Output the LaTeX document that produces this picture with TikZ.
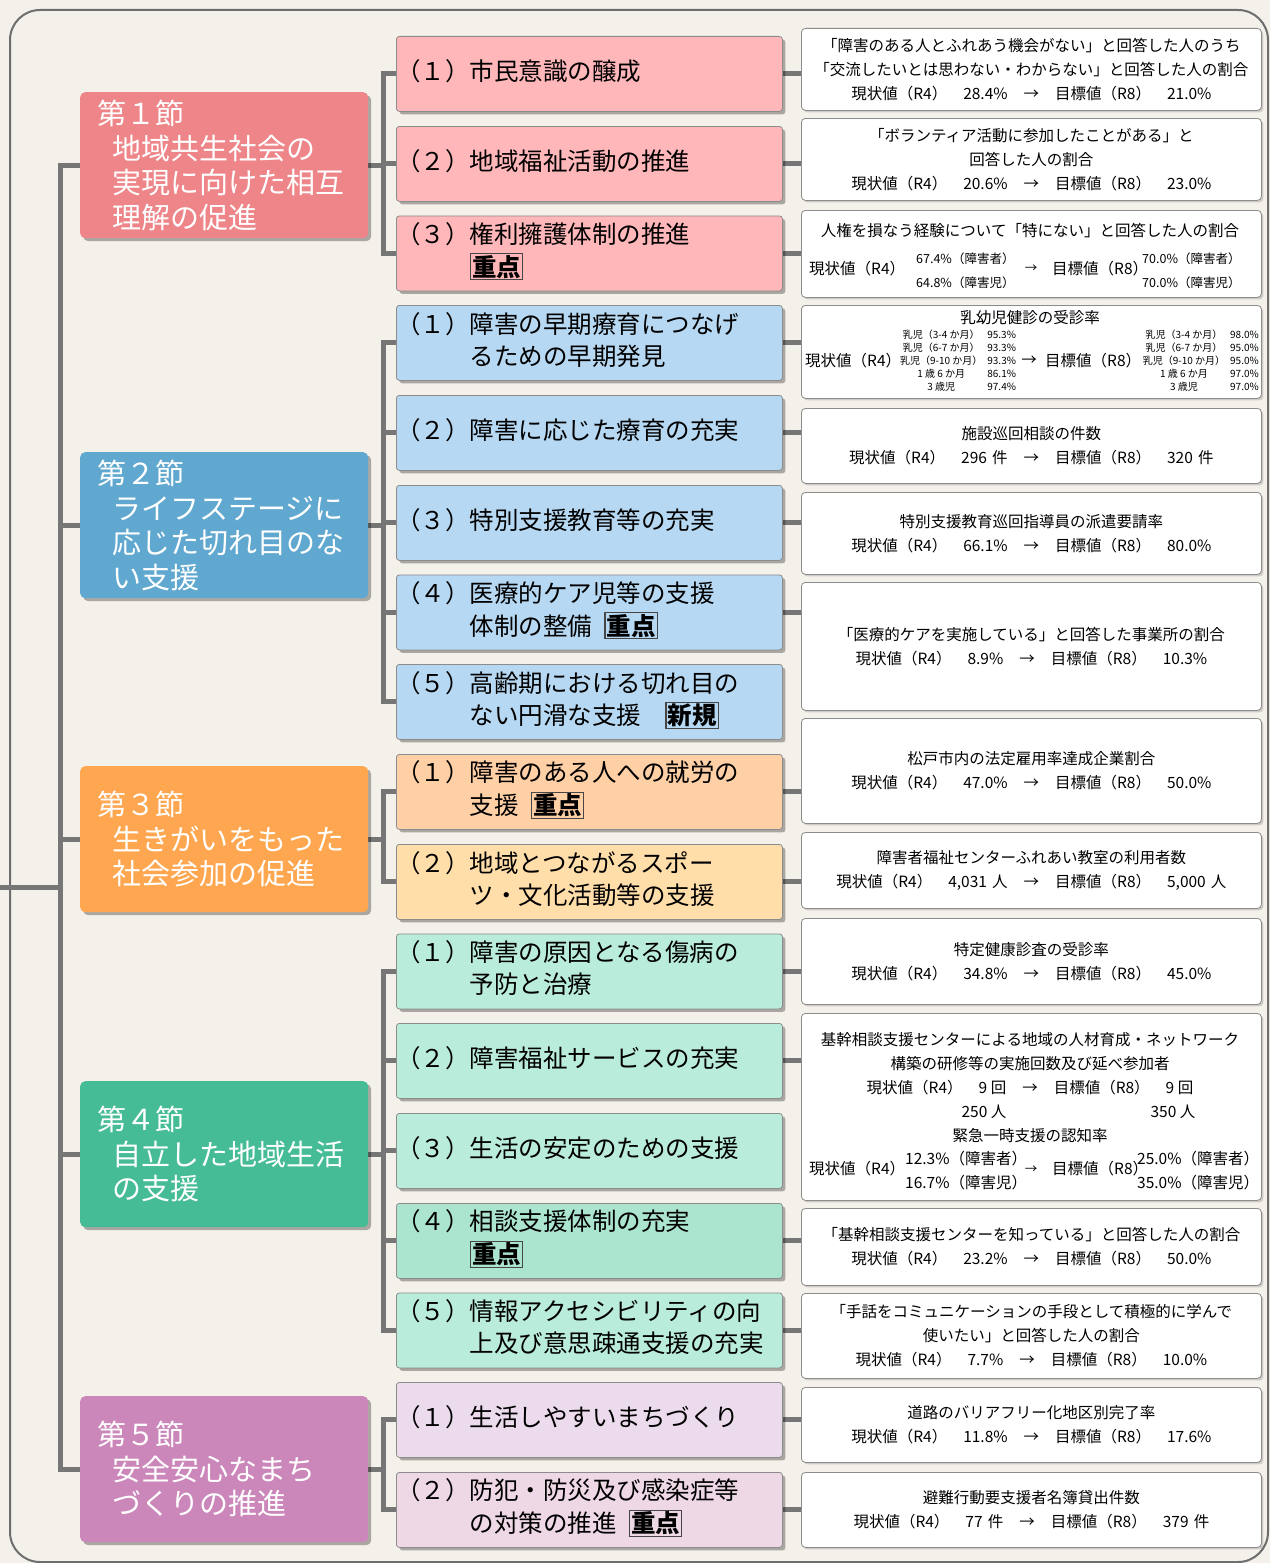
\documentclass[tikz,border=0pt]{standalone}
\usepackage{fontspec}
\setmainfont{Noto Sans CJK JP}
\usetikzlibrary{shadows, backgrounds}

% font sizes
\newcommand{\secfont}{\fontsize{29}{34.5}\selectfont}
\newcommand{\midfont}{\fontsize{24.5}{32}\selectfont}
\newcommand{\goalfont}{\fontsize{15.5}{24}\selectfont}
\newcommand{\smallfont}{\fontsize{12.5}{24}\selectfont}
\newcommand{\tinyfont}{\fontsize{10}{13}\selectfont}

% numbered item text, boxed tags, indicator line
\newcommand{\itemtext}[2]{\begin{tabular}{@{}l@{}l@{}}（#1）\hspace{3pt}&#2\end{tabular}}
\newcommand{\markbox}[1]{{\setlength{\fboxsep}{1pt}\setlength{\fboxrule}{1.1pt}\color{tagline}\fbox{\color{black}\bfseries #1}}}
\newcommand{\curval}[2]{現状値（R4）\hspace{16pt}#1\hspace{16pt}→\hspace{16pt}目標値（R8）\hspace{16pt}#2}

\begin{document}
\begin{tikzpicture}[x=1pt, y=-1pt,
  link/.style={line width=5pt, draw=linegray, line cap=rect},
  secbox/.style={rectangle, rounded corners=5pt, minimum width=288pt, minimum height=146pt,
    text width=254pt, inner xsep=17pt, inner ysep=0pt, align=left, anchor=north west,
    text=white, font=\secfont,
    drop shadow={shadow xshift=3pt, shadow yshift=-3pt, opacity=0.3, fill=black}},
  midbox/.style={rectangle, rounded corners=3pt, draw=boxgray, line width=0.8pt,
    minimum width=386pt, minimum height=75pt, text width=386pt, inner xsep=0pt, inner ysep=0pt,
    align=left, anchor=north west, font=\midfont,
    drop shadow={shadow xshift=3pt, shadow yshift=-3pt, opacity=0.3, fill=black}},
  goalbox/.style={rectangle, rounded corners=4pt, draw=boxgray, fill=white, line width=0.8pt,
    minimum width=460pt, text width=460pt, inner xsep=0pt, inner ysep=0pt,
    align=center, anchor=north west, font=\goalfont,
    drop shadow={shadow xshift=2pt, shadow yshift=-2pt, opacity=0.15, fill=black}},
  gtext/.style={inner sep=0pt, font=\goalfont},
]
  % Define colors
  \definecolor{bgcol}{RGB}{244,240,234}
  \definecolor{linegray}{RGB}{118,118,118}
  \definecolor{boxgray}{RGB}{140,140,140}
  \definecolor{framegray}{RGB}{110,110,110}
  \definecolor{tagline}{RGB}{70,70,70}
  \definecolor{sec1}{RGB}{238,133,137}
  \definecolor{sec2}{RGB}{96,168,207}
  \definecolor{sec3}{RGB}{255,167,80}
  \definecolor{sec4}{RGB}{69,188,150}
  \definecolor{sec5}{RGB}{204,135,186}
  \definecolor{mid1}{RGB}{255,183,186}
  \definecolor{mid2}{RGB}{182,216,242}
  \definecolor{mid3}{RGB}{255,207,166}
  \definecolor{mid3b}{RGB}{255,222,170}
  \definecolor{mid4}{RGB}{186,236,220}
  \definecolor{mid4b}{RGB}{171,228,207}
  \definecolor{mid5}{RGB}{236,219,236}
  \definecolor{mid5b}{RGB}{238,216,230}

  \useasboundingbox (0,0) rectangle (1270,1563);

  % Section boxes
  \node[secbox, fill=sec1] (s1) at (80,92) {第１節\\\hspace*{15pt}地域共生社会の\\\hspace*{15pt}実現に向けた相互\\\hspace*{15pt}理解の促進};
  \node[secbox, fill=sec2] (s2) at (80,452) {第２節\\\hspace*{15pt}ライフステージに\\\hspace*{15pt}応じた切れ目のな\\\hspace*{15pt}い支援};
  \node[secbox, fill=sec3] (s3) at (80,766) {第３節\\\hspace*{15pt}生きがいをもった\\\hspace*{15pt}社会参加の促進};
  \node[secbox, fill=sec4] (s4) at (80,1081) {第４節\\\hspace*{15pt}自立した地域生活\\\hspace*{15pt}の支援};
  \node[secbox, fill=sec5] (s5) at (80,1396) {第５節\\\hspace*{15pt}安全安心なまち\\\hspace*{15pt}づくりの推進};

  % Measures
  \node[midbox, fill=mid1] (m11) at (396,36) {\itemtext{１}{市民意識の醸成}};
  \node[midbox, fill=mid1] (m12) at (396,126) {\itemtext{２}{地域福祉活動の推進}};
  \node[midbox, fill=mid1] (m13) at (396,215.5) {\itemtext{３}{権利擁護体制の推進\\&\markbox{重点}}};
  \node[midbox, fill=mid2] (m21) at (396,305) {\itemtext{１}{障害の早期療育につなげ\\&るための早期発見}};
  \node[midbox, fill=mid2] (m22) at (396,395) {\itemtext{２}{障害に応じた療育の充実}};
  \node[midbox, fill=mid2] (m23) at (396,485) {\itemtext{３}{特別支援教育等の充実}};
  \node[midbox, fill=mid2] (m24) at (396,574.5) {\itemtext{４}{医療的ケア児等の支援\\&体制の整備\hspace{12pt}\markbox{重点}}};
  \node[midbox, fill=mid2] (m25) at (396,664) {\itemtext{５}{高齢期における切れ目の\\&ない円滑な支援\hspace{24pt}\markbox{新規}}};
  \node[midbox, fill=mid3] (m31) at (396,754) {\itemtext{１}{障害のある人への就労の\\&支援\hspace{12pt}\markbox{重点}}};
  \node[midbox, fill=mid3b] (m32) at (396,844) {\itemtext{２}{地域とつながるスポー\\&ツ・文化活動等の支援}};
  \node[midbox, fill=mid4] (m41) at (396,933.5) {\itemtext{１}{障害の原因となる傷病の\\&予防と治療}};
  \node[midbox, fill=mid4] (m42) at (396,1023) {\itemtext{２}{障害福祉サービスの充実}};
  \node[midbox, fill=mid4] (m43) at (396,1113) {\itemtext{３}{生活の安定のための支援}};
  \node[midbox, fill=mid4b] (m44) at (396,1203) {\itemtext{４}{相談支援体制の充実\\&\markbox{重点}}};
  \node[midbox, fill=mid4] (m45) at (396,1292.5) {\itemtext{５}{情報アクセシビリティの向\\&上及び意思疎通支援の充実}};
  \node[midbox, fill=mid5] (m51) at (396,1382) {\itemtext{１}{生活しやすいまちづくり}};
  \node[midbox, fill=mid5b] (m52) at (396,1472) {\itemtext{２}{防犯・防災及び感染症等\\&の対策の推進\hspace{12pt}\markbox{重点}}};

  % Indicators
  \node[goalbox, minimum height=82pt] (g11) at (801,28) {「障害のある人とふれあう機会がない」と回答した人のうち\\「交流したいとは思わない・わからない」と回答した人の割合\\\curval{28.4\%}{21.0\%}};
  \node[goalbox, minimum height=82pt] (g12) at (801,118) {「ボランティア活動に参加したことがある」と\\回答した人の割合\\\curval{20.6\%}{23.0\%}};
  \node[goalbox, minimum height=87pt] (g13) at (801,210) {};
  \node[goalbox, minimum height=93pt] (g21) at (801,305) {};
  \node[goalbox, minimum height=75pt] (g22) at (801,408) {施設巡回相談の件数\\\curval{296 件}{320 件}};
  \node[goalbox, minimum height=82pt] (g23) at (801,492) {特別支援教育巡回指導員の派遣要請率\\\curval{66.1\%}{80.0\%}};
  \node[goalbox, minimum height=128pt] (g24) at (801,582) {「医療的ケアを実施している」と回答した事業所の割合\\\curval{8.9\%}{10.3\%}};
  \node[goalbox, minimum height=105pt] (g31) at (801,718) {松戸市内の法定雇用率達成企業割合\\\curval{47.0\%}{50.0\%}};
  \node[goalbox, minimum height=76pt] (g32) at (801,832) {障害者福祉センターふれあい教室の利用者数\\\curval{4,031 人}{5,000 人}};
  \node[goalbox, minimum height=86pt] (g41) at (801,918) {特定健康診査の受診率\\\curval{34.8\%}{45.0\%}};
  \node[goalbox, minimum height=187pt] (g42) at (801,1013) {};
  \node[goalbox, minimum height=77pt] (g44) at (801,1208) {「基幹相談支援センターを知っている」と回答した人の割合\\\curval{23.2\%}{50.0\%}};
  \node[goalbox, minimum height=85pt] (g45) at (801,1293) {「手話をコミュニケーションの手段として積極的に学んで\\使いたい」と回答した人の割合\\\curval{7.7\%}{10.0\%}};
  \node[goalbox, minimum height=75pt] (g51) at (801,1387) {道路のバリアフリー化地区別完了率\\\curval{11.8\%}{17.6\%}};
  \node[goalbox, minimum height=75pt] (g52) at (801,1472) {避難行動要支援者名簿貸出件数\\\curval{77 件}{379 件}};

  % Indicator: human rights
  \node[gtext] (g13t) at (1030,231) {人権を損なう経験について「特にない」と回答した人の割合};
  \node[gtext, anchor=west] (g13c) at (809,269) {現状値（R4）};
  \node[gtext, font=\smallfont, align=left, anchor=west] (g13a) at (916,271) {67.4\%（障害者）\\64.8\%（障害児）};
  \node[gtext, font=\smallfont] (g13r) at (1031,269) {→};
  \node[gtext, anchor=west] (g13g) at (1052,269) {目標値（R8）};
  \node[gtext, font=\smallfont, align=left, anchor=west] (g13b) at (1142,271) {70.0\%（障害者）\\70.0\%（障害児）};

  % Indicator: infant checkups
  \node[gtext] (g21t) at (1030,318) {乳幼児健診の受診率};
  \node[gtext, anchor=west] (g21c) at (805,361) {現状値（R4）};
  \node[gtext, font=\tinyfont] (g21a) at (958,362) {\begin{tabular}{@{}c@{\hspace{5pt}}l@{}}乳児（3-4 か月）&95.3\%\\乳児（6-7 か月）&93.3\%\\乳児（9-10 か月）&93.3\%\\1 歳 6 か月&86.1\%\\3 歳児&97.4\%\end{tabular}};
  \node[gtext] (g21r) at (1029,361) {→};
  \node[gtext, anchor=west] (g21g) at (1045,361) {目標値（R8）};
  \node[gtext, font=\tinyfont, anchor=east] (g21b) at (1259,362) {\begin{tabular}{@{}c@{\hspace{5pt}}l@{}}乳児（3-4 か月）&98.0\%\\乳児（6-7 か月）&95.0\%\\乳児（9-10 か月）&95.0\%\\1 歳 6 か月&97.0\%\\3 歳児&97.0\%\end{tabular}};

  % Indicator: consultation center
  \node[gtext, align=center] (g42t) at (1030,1052) {基幹相談支援センターによる地域の人材育成・ネットワーク\\構築の研修等の実施回数及び延べ参加者};
  \node[gtext] (g42v) at (1030,1088) {\curval{9 回}{9 回}};
  \node[gtext] (g42p) at (984,1112) {250 人};
  \node[gtext] (g42q) at (1173,1112) {350 人};
  \node[gtext] (g42s) at (1030,1136) {緊急一時支援の認知率};
  \node[gtext, anchor=west] (g42c) at (809,1169) {現状値（R4）};
  \node[gtext, align=left, anchor=west] (g42a) at (905,1171) {12.3\%（障害者）\\16.7\%（障害児）};
  \node[gtext, font=\smallfont] (g42r) at (1031,1170) {→};
  \node[gtext, anchor=west] (g42g) at (1052,1169) {目標値（R8）};
  \node[gtext, align=left, anchor=west] (g42b) at (1137,1171) {25.0\%（障害者）\\35.0\%（障害児）};

  % Background, frame and connectors
  \begin{scope}[on background layer]
    \fill[bgcol] (0,0) rectangle (1270,1563);
    \draw[framegray, line width=2pt, rounded corners=30pt] (10,10) rectangle (1268,1562);
    \coordinate (tk) at (60,0);
    \coordinate (feed) at (0,887);
    \coordinate (bk) at (383,0);
    \draw[link] (feed) -- (feed -| tk);
    \draw[link] (s1.west -| tk) -- (s5.west -| tk);
    \foreach \s in {s1,s2,s3,s4,s5}
      \draw[link] (\s.west -| tk) -- (\s.west);
    \foreach \s in {s1,s2,s3,s4,s5}
      \draw[link] (\s.east) -- (\s.east -| bk);
    \draw[link] (m11.west -| bk) -- (m13.west -| bk);
    \draw[link] (m21.west -| bk) -- (m25.west -| bk);
    \draw[link] (m31.west -| bk) -- (m32.west -| bk);
    \draw[link] (m41.west -| bk) -- (m45.west -| bk);
    \draw[link] (m51.west -| bk) -- (m52.west -| bk);
    \foreach \m in {m11,m12,m13,m21,m22,m23,m24,m25,m31,m32,m41,m42,m43,m44,m45,m51,m52}
      \draw[link] (\m.west -| bk) -- (\m.west);
    \foreach \n in {11,12,13,21,22,23,24,31,32,41,42,44,45,51,52}
      \draw[link] (m\n.east) -- (g\n.west |- m\n.east);
  \end{scope}
\end{tikzpicture}
\end{document}
